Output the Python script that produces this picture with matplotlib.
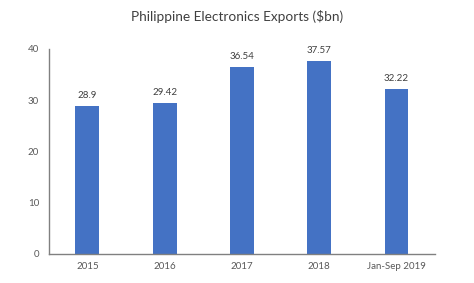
import matplotlib.pyplot as plt

categories = ["2015", "2016", "2017", "2018", "Jan-Sep 2019"]
exports_bn = [28.9, 29.42, 36.54, 37.57, 32.22]
value_labels = ["28.9", "29.42", "36.54", "37.57", "32.22"]

plt.rcParams['font.family'] = ['Lato', 'DejaVu Sans']

fig = plt.figure(figsize=(4.74, 2.83), dpi=100)
ax = fig.add_axes([0.103, 0.1025, 0.815, 0.7245])

x = range(len(categories))
bars = ax.bar(x, exports_bn, width=0.31, color='#4472C4')

for b, lab in zip(bars, value_labels):
    ax.text(b.get_x() + b.get_width() / 2, b.get_height() + 1.2, lab,
            ha='center', va='bottom', fontsize=7, color='#404040')

ax.set_xlim(-0.5, len(categories) - 0.5)
ax.set_ylim(0, 40)
ax.set_yticks([0, 10, 20, 30, 40])
ax.set_xticks(list(x))
ax.set_xticklabels(categories)
ax.tick_params(axis='both', length=0, labelsize=7, colors='#595959')
ax.tick_params(axis='y', pad=7)
ax.tick_params(axis='x', pad=6)

for side in ['top', 'right']:
    ax.spines[side].set_visible(False)
for side in ['left', 'bottom']:
    ax.spines[side].set_color('#808080')
    ax.spines[side].set_linewidth(1)

fig.text(0.5, 0.94, "Philippine Electronics Exports ($bn)", ha='center', va='center',
         fontsize=9.8, color='#404040')

fig.savefig("out.png", dpi=100)
